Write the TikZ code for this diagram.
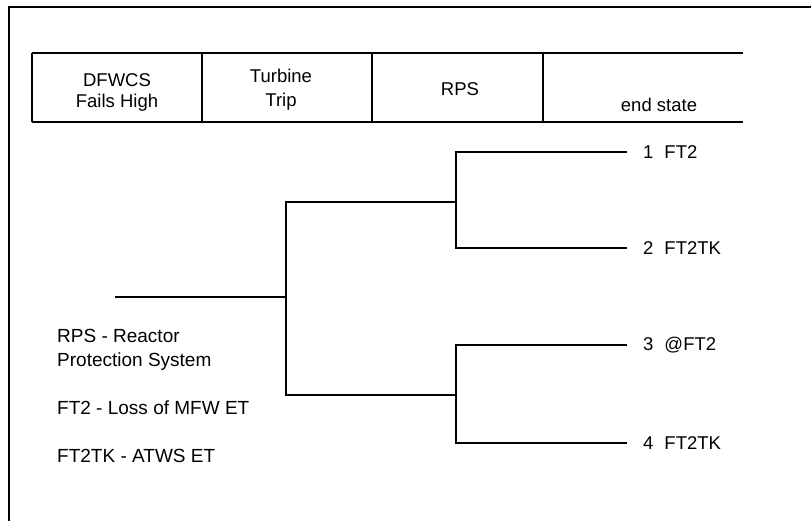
\documentclass[tikz,border=0pt]{standalone}
\usepackage{fontspec}
\setmainfont{Liberation Sans}
\usetikzlibrary{positioning}

\begin{document}
\begin{tikzpicture}[x=1pt,y=-1pt,
  frame/.style={line width=1.3pt},
  rule/.style={line width=1.8pt},
  branch/.style={line width=1.9pt},
  txt/.style={font=\fontsize{18.5}{21}\selectfont, inner sep=0pt},
  legend/.style={txt, font=\fontsize{19}{21}\selectfont, anchor=base west},
  endlabel/.style={txt, anchor=west}]
\useasboundingbox (0,0) rectangle (811,525);
\draw [frame] (9,521) -- (9,7) -- (811,7);
% heading row
\draw [rule] (32,53) -- (743,53);
\draw [rule] (32,122) -- (743,122);
\foreach \x in {32,202,372,543}
  \draw [rule] (\x,53) -- (\x,122);
\node [txt, anchor=base] (dfwcs)  at (117,86)  {DFWCS};
\node [txt, anchor=base] (fails)  at (117,107) {Fails High};
\node [txt, anchor=base] (turb)   at (281,82)  {Turbine};
\node [txt, anchor=base] (trip)   at (281,106) {Trip};
\node [txt, anchor=base] (rps)    at (460,95)  {RPS};
\node [txt, anchor=base] (endst)  at (659,111) {end state};
% tree
\coordinate (init) at (115,297);
\coordinate (tt) at (286,297);
\coordinate (r1) at (456,202);
\coordinate (r2) at (456,395);
\coordinate (s1) at (627,152);
\coordinate (s2) at (627,248);
\coordinate (s3) at (627,345);
\coordinate (s4) at (627,443);
\node [endlabel, right=16pt of s1] (e1) {1\hspace{11pt}FT2};
\node [endlabel, right=16pt of s2] (e2) {2\hspace{11pt}FT2TK};
\node [endlabel, right=16pt of s3] (e3) {3\hspace{11pt}@FT2};
\node [endlabel, right=16pt of s4] (e4) {4\hspace{11pt}FT2TK};
\draw [branch] (init) -- (tt);
\draw [branch] (r1) -- (tt |- r1) -- (tt |- r2) -- (r2);
\draw [branch] (s1) -- (r1 |- s1) -- (r1 |- s2) -- (s2);
\draw [branch] (s3) -- (r2 |- s3) -- (r2 |- s4) -- (s4);
% legend
\node [legend] (leg1) at (57,342) {RPS - Reactor};
\node [legend] (leg2) at (57,366) {Protection System};
\node [legend] (leg3) at (57,414) {FT2 - Loss of MFW ET};
\node [legend] (leg4) at (57,462) {FT2TK - ATWS ET};
\end{tikzpicture}
\end{document}
